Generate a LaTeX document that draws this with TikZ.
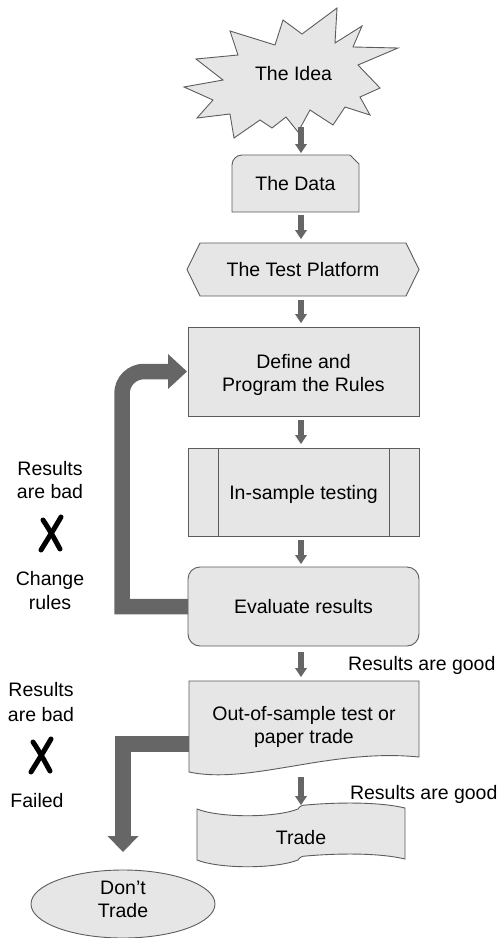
\documentclass[tikz,border=0pt]{standalone}
\usepackage{fontspec}
\setmainfont{Liberation Sans}
\usetikzlibrary{arrows.meta,calc,backgrounds,shapes.geometric}
\definecolor{boxgray}{HTML}{E6E6E6}
\definecolor{linegray}{HTML}{5C5C5C}
\definecolor{arrowgray}{HTML}{666666}
\begin{document}
\begin{tikzpicture}[x=1pt,y=-1pt,
  font=\fontsize{19.5}{23}\selectfont,
  every node/.style={inner sep=0pt, outer sep=0pt},
  shapeline/.style={fill=boxgray, draw=linegray, line width=0.9pt},
  onerow/.style={text height=14pt, text depth=0pt},
  tworow/.style={align=center},
  arr/.style={draw=arrowgray, line width=6pt, -{Triangle[width=12pt,length=9pt,line width=0pt]}, shorten <=4pt, shorten >=4pt},
  bigarr/.style={draw=arrowgray, line width=15.5pt},
  plain/.style={anchor=base},
  xmark/.pic={
    \draw[line width=5pt, line cap=round] (-8,-14) .. controls (0,-2) and (4,6) .. (9,15);
    \draw[line width=5pt, line cap=round] (10,-17) .. controls (3,-5) .. (-10,16);
  }
]
\useasboundingbox (0,0) rectangle (501,938);

% nodes
\node[onerow] (idea) at (293.5,73) {The Idea};
\coordinate (ideabottom) at (301,127);
\coordinate (axis) at (301,0);
\node[onerow, minimum width=127pt, minimum height=57pt] (data) at (295.5,183.5) {The Data};
\node[onerow, minimum width=232pt, minimum height=53pt] (platform) at (303,269.5) {The Test Platform};
\node[shapeline, tworow, minimum width=231pt, minimum height=89pt] (define) at (303.5,371.5) {\rule{0pt}{20.2pt}Define and\\Program the Rules};
\node[shapeline, onerow, minimum width=231pt, minimum height=88pt] (insample) at (303.5,492) {In-sample testing};
\draw[linegray, line width=0.9pt] ($(insample.north west)+(30,0)$) -- ($(insample.south west)+(30,0)$);
\draw[linegray, line width=0.9pt] ($(insample.north east)+(-30,0)$) -- ($(insample.south east)+(-30,0)$);
\node[shapeline, onerow, rounded corners=12pt, minimum width=231pt, minimum height=79pt] (eval) at (303.5,606.5) {Evaluate results};
\node[tworow, minimum width=230pt, minimum height=86pt] (oos) at (304,724) {\rule{0pt}{19.2pt}Out-of-sample test or\\paper trade};
\node[onerow, minimum width=208pt, minimum height=54pt] (trade) at (301,837) {Trade};
\node[shapeline, ellipse, tworow, minimum width=184pt, minimum height=68pt] (dont) at (123,904) {Don’t\\Trade\rule[-9.2pt]{0pt}{9.2pt}};

% side labels
\node[plain] (rb1a) at (50,475) {Results};
\node[plain] (rb1b) at (50,498) {are bad};
\pic at (51,534) {xmark};
\node[plain] (cr1) at (50,585) {Change};
\node[plain] (cr2) at (50,609) {rules};
\node[plain] (rb2a) at (41,696) {Results};
\node[plain] (rb2b) at (41,721) {are bad};
\pic at (41,756) {xmark};
\node[plain] (fl) at (37,807) {Failed};
\node[anchor=base west] (good1) at (348,670) {Results are good};
\node[anchor=base west] (good2) at (350,799) {Results are good};

% outlines of special shapes
\begin{pgfonlayer}{background}
\draw[shapeline] (337,8) -- (335,43) -- (362,26) -- (353,47) -- (398,48) -- (358,65)
  -- (380,88) -- (360,97) -- (370,115) -- (345,107) -- (333,125) -- (310,110)
  -- (298,132) -- (286,117) -- (272,128) -- (260,120) -- (234,138) -- (230,114)
  -- (197,118) -- (213,100) -- (184,87) -- (223,80) -- (196,59) -- (238,55)
  -- (230,31) -- (275,45) -- (283,20) -- (302,34) -- cycle;
\draw[shapeline] (data.south west) -- ($(data.north west)+(0,10)$)
  arc[start angle=180, end angle=270, radius=10]
  -- ($(data.north east)+(-9,0)$) -- ($(data.north east)+(0,9)$) -- (data.south east) -- cycle;
\draw[shapeline] (platform.west) -- ($(platform.north west)+(13,0)$) -- ($(platform.north east)+(-13,0)$)
  -- (platform.east) -- ($(platform.south east)+(-13,0)$) -- ($(platform.south west)+(13,0)$) -- cycle;
\draw[shapeline] (oos.north west) -- (oos.north east) -- (419,757)
  .. controls (330,748) and (250,785) .. (189,772) -- cycle;
\draw[shapeline] (197,809) .. controls (220,818) and (275,818) .. (298,809)
  .. controls (300,806) and (302,805) .. (306,805)
  .. controls (340,802) and (380,802) .. (405,808)
  -- (405,859)
  .. controls (380,853) and (340,853) .. (306,856)
  .. controls (302,856) and (300,857) .. (298,860)
  .. controls (275,869) and (220,869) .. (197,860) -- cycle;
\end{pgfonlayer}

% connectors
\draw[arr, shorten <=0pt, shorten >=2pt] (ideabottom) -- (data.north -| axis);
\draw[arr, shorten <=3pt] (data.south -| axis) -- (platform.north -| axis);
\draw[arr] (platform.south -| axis) -- (define.north -| axis);
\draw[arr] (define.south -| axis) -- (insample.north -| axis);
\draw[arr, shorten >=3pt] (insample.south -| axis) -- (eval.north -| axis);
\draw[arr, shorten <=6pt] (eval.south -| axis) -- (oos.north -| axis);
\draw[arr, shorten <=10pt, shorten >=5pt] (oos.south -| axis) -- (trade.north -| axis);

\draw[bigarr, -{Triangle[width=35pt,length=19pt,line width=0pt]}, shorten >=1pt]
  (eval.west) -- ++(-66,0) -- ($(define.west)+(-66,22)$)
  arc[start angle=180, end angle=270, radius=22] -- (define.west);
\draw[bigarr, -{Triangle[width=31pt,length=16pt,line width=0pt]}, shorten >=18pt]
  ($(oos.west)+(0,20)$) -| (dont.north);
\end{tikzpicture}
\end{document}
